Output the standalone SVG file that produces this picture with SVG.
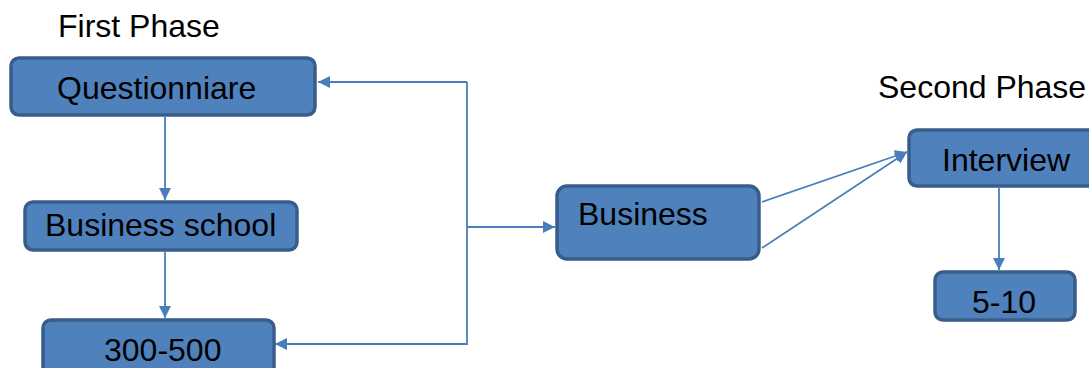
<svg xmlns="http://www.w3.org/2000/svg" width="1089" height="368" viewBox="0 0 1089 368">
<style>
.box{fill:#4F81BD;stroke:#385D8A;stroke-width:3.5}
.t{font-family:"Liberation Sans",Arial,sans-serif;font-size:32px;fill:#000}
.c{fill:none;stroke:#4A7EBB;stroke-width:1.8}
</style>
<defs>
<marker id="ah" viewBox="0 0 12 12" refX="12" refY="6" markerWidth="12" markerHeight="12" markerUnits="userSpaceOnUse" orient="auto">
<path d="M0,0 L12,6 L0,12 Z" fill="#4A7EBB"/>
</marker>
</defs>
<text class="t" x="58" y="37">First Phase</text>
<text class="t" x="878" y="98">Second Phase</text>
<g id="connectors">
<line class="c" x1="165" y1="117" x2="165" y2="200" marker-end="url(#ah)"/>
<line class="c" x1="165" y1="252" x2="165" y2="318" marker-end="url(#ah)"/>
<polyline class="c" points="467,82 467,344 275,344" marker-end="url(#ah)"/>
<line class="c" x1="467" y1="82" x2="318" y2="82" marker-end="url(#ah)"/>
<line class="c" x1="467" y1="227" x2="555" y2="227" marker-end="url(#ah)"/>
<line class="c" x1="762" y1="202" x2="907" y2="152" marker-end="url(#ah)"/>
<line class="c" x1="762" y1="248" x2="907" y2="152" marker-end="url(#ah)"/>
<line class="c" x1="999" y1="188" x2="999" y2="270" marker-end="url(#ah)"/>
</g>
<g id="questionniare">
<rect class="box" x="11" y="58" width="304" height="57" rx="8"/>
<text class="t" x="57" y="99">Questionniare</text>
</g>
<g id="business-school">
<rect class="box" x="25" y="202" width="272" height="48" rx="8"/>
<text class="t" x="45" y="236">Business school</text>
</g>
<g id="n300-500">
<rect class="box" x="43" y="320" width="231" height="60" rx="8"/>
<text class="t" x="104" y="361">300-500</text>
</g>
<g id="business">
<rect class="box" x="557" y="186" width="202" height="73" rx="10"/>
<text class="t" x="578" y="225">Business</text>
</g>
<g id="interview">
<rect class="box" x="909" y="130" width="190" height="56" rx="8"/>
<text class="t" x="942" y="171">Interview</text>
</g>
<g id="n5-10">
<rect class="box" x="935" y="272" width="140" height="48" rx="8"/>
<text class="t" x="972" y="313">5-10</text>
</g>
</svg>
